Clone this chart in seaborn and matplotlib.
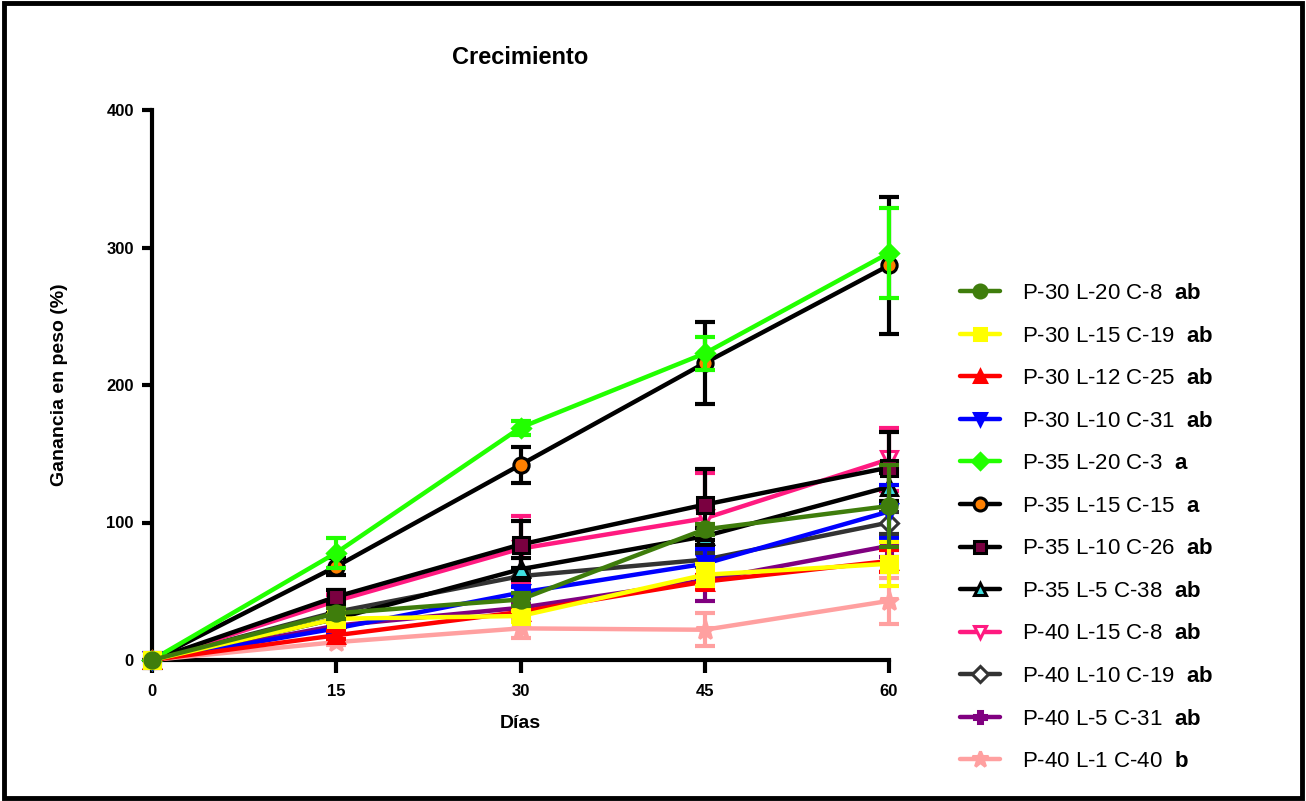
import numpy as np
import matplotlib
matplotlib.use("Agg")
import matplotlib.pyplot as plt
import seaborn as sns
from matplotlib.patches import Rectangle

# dias de muestreo
dias = [0, 15, 30, 45, 60]

# nombre de cada tratamiento y letra de significancia
tratamientos = ["P-30 L-20 C-8", "P-30 L-15 C-19", "P-30 L-12 C-25", "P-30 L-10 C-31",
                "P-35 L-20 C-3", "P-35 L-15 C-15", "P-35 L-10 C-26", "P-35 L-5 C-38",
                "P-40 L-15 C-8", "P-40 L-10 C-19", "P-40 L-5 C-31", "P-40 L-1 C-40"]
letras = ["ab", "ab", "ab", "ab", "a", "a", "ab", "ab", "ab", "ab", "ab", "b"]

# ganancia en peso (%) promedio
g_p30_l20 = [0, 34, 44, 95, 112]
g_p30_l15 = [0, 30, 32, 62, 70]
g_p30_l12 = [0, 18, 35, 57, 72]
g_p30_l10 = [0, 23, 49, 70, 108]
g_p35_l20 = [0, 78, 169, 223, 296]
g_p35_l15 = [0, 68, 142, 216, 287]
g_p35_l10 = [0, 46, 84, 113, 140]
g_p35_l5 = [0, 30, 66, 90, 126]
g_p40_l15 = [0, 43, 81, 103, 146]
g_p40_l10 = [0, 35, 61, 73, 100]
g_p40_l5 = [0, 25, 38, 58, 83]
g_p40_l1 = [0, 13, 23, 22, 43]

# error (barras)
e_p30_l20 = [0, 4, 5, 4, 30]
e_p30_l15 = [0, 3, 4, 8, 16]
e_p30_l12 = [0, 3, 3, 5, 8]
e_p30_l10 = [0, 3, 4, 11, 19]
e_p35_l20 = [0, 11, 5, 12, 33]
e_p35_l15 = [0, 6, 13, 30, 50]
e_p35_l10 = [0, 5, 17, 26, 26]
e_p35_l5 = [0, 4, 8, 6, 10]
e_p40_l15 = [0, 4, 24, 33, 23]
e_p40_l10 = [0, 3, 4, 5, 8]
e_p40_l5 = [0, 3, 3, 15, 8]
e_p40_l1 = [0, 2, 7, 12, 17]

medias = [g_p30_l20, g_p30_l15, g_p30_l12, g_p30_l10, g_p35_l20, g_p35_l15,
          g_p35_l10, g_p35_l5, g_p40_l15, g_p40_l10, g_p40_l5, g_p40_l1]
errores = [e_p30_l20, e_p30_l15, e_p30_l12, e_p30_l10, e_p35_l20, e_p35_l15,
           e_p35_l10, e_p35_l5, e_p40_l15, e_p40_l10, e_p40_l5, e_p40_l1]

# (color linea, marcador, relleno)
estilos = [("#3f7d0c", "o", "#3f7d0c"),
           ("#ffff00", "s", "#ffff00"),
           ("#ff0000", "^", "#ff0000"),
           ("#0000ff", "v", "#0000ff"),
           ("#22ff00", "D", "#22ff00"),
           ("#000000", "o", "#ff8000"),
           ("#000000", "s", "#7a0040"),
           ("#000000", "^", "#40e0e0"),
           ("#ff1a80", "v", "#ffffff"),
           ("#333333", "D", "#ffffff"),
           ("#800080", "P", "#800080"),
           ("#ffa0a0", "*", "#ffa0a0")]

sns.set_style("ticks", {"axes.edgecolor": "black", "text.color": "black",
                        "xtick.color": "black", "ytick.color": "black",
                        "axes.labelcolor": "black"})
plt.rcParams["font.family"] = ["Liberation Sans", "DejaVu Sans"]
plt.rcParams["mathtext.fontset"] = "custom"
plt.rcParams["mathtext.rm"] = "Liberation Sans"
plt.rcParams["mathtext.bf"] = "Liberation Sans:bold"

fig = plt.figure(figsize=(13.06, 8.01), dpi=100)
ax = fig.add_axes([152/1306, 1 - 660/801, (889-152)/1306, (660-110)/801])

for i, (m, e, (c, mk, fc)) in enumerate(zip(medias, errores, estilos)):
    z = 30 - 2*i
    ms = 11
    if mk == "*":
        ms = 14
    if mk == "D":
        ms = 9
    sns.lineplot(x=dias, y=m, ax=ax, color=c, lw=3.2, marker=mk, ms=ms,
                 markerfacecolor=fc, markeredgecolor=c, markeredgewidth=2.2,
                 label=tratamientos[i] + r"  $\mathbf{" + letras[i] + "}$",
                 zorder=z, clip_on=False)
    ax.errorbar(dias[1:], m[1:], yerr=e[1:], fmt="none", ecolor=c, elinewidth=3,
                capsize=7, capthick=3, zorder=z - 1, clip_on=False)

ax.set_xlim(0, 60)
ax.set_ylim(0, 400)
ax.set_xticks(dias)
ax.set_yticks([0, 100, 200, 300, 400])
sns.despine(ax=ax)
for s in ["left", "bottom"]:
    ax.spines[s].set_linewidth(3)
ax.tick_params(axis="both", width=3, labelsize=12)
ax.tick_params(axis="x", length=9, pad=8)
ax.tick_params(axis="y", length=7, pad=6)
for t in ax.get_xticklabels() + ax.get_yticklabels():
    t.set_fontweight("bold")

ax.set_xlabel("Días", fontsize=14, fontweight="bold", labelpad=12)
ax.set_ylabel("Ganancia en peso (%)", fontsize=14, fontweight="bold", labelpad=28)

fig.text(520/1306, 1 - 58/801, "Crecimiento", fontsize=17, fontweight="bold",
         ha="center", va="center")

leg = ax.legend(loc="upper left", bbox_to_anchor=(960/1306, 1 - 283/801),
                bbox_transform=fig.transFigure, frameon=False, fontsize=16,
                handlelength=1.8, handletextpad=1.0, labelspacing=0.97,
                borderpad=0, borderaxespad=0, markerscale=0.85)

fig.patches.append(Rectangle((0.003, 0.004), 0.994, 0.992, transform=fig.transFigure,
                             fill=False, lw=3.5, edgecolor="black"))

fig.savefig("out.png", dpi=100)
